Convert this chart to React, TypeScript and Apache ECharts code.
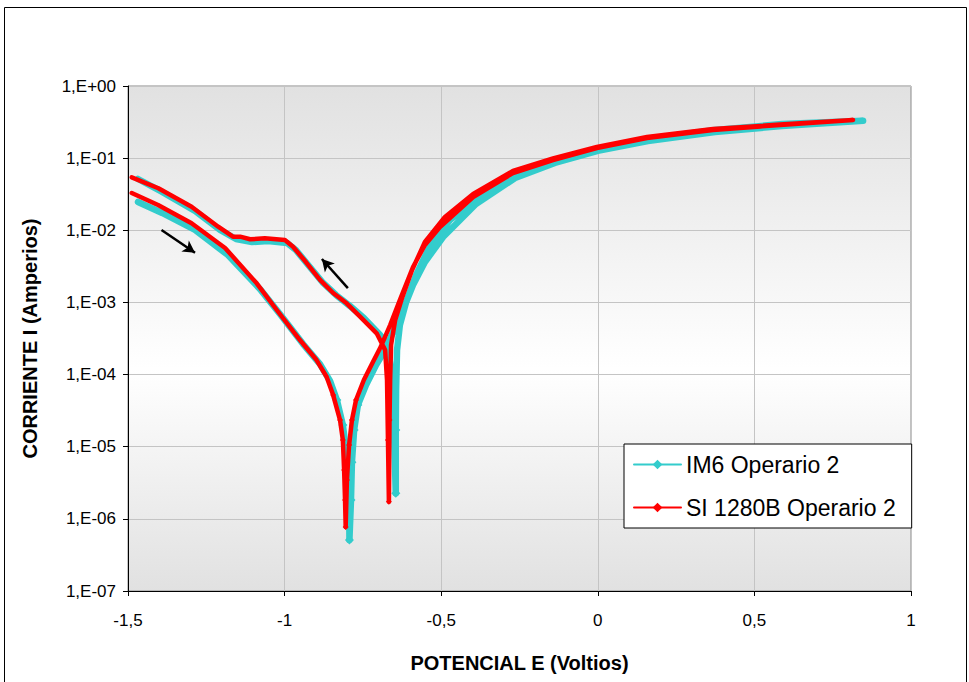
import React, { useEffect, useRef } from "react";
import * as echarts from "echarts";

// IM6 Operario 2 (cyan) — potential (V) and current (A), in scan order
const im6E = [
  -1.468, -1.391, -1.286, -1.181, -1.079, -1.015, -0.941, -0.887, -0.855, -0.833, -0.814, -0.804, -0.801, -0.794, -0.793,
  -0.788, -0.785, -0.778, -0.766, -0.74, -0.708, -0.679, -0.651, -0.622, -0.59, -0.552, -0.494, -0.389, -0.264, -0.137,
  0.0, 0.16, 0.374, 0.588, 0.847,
  0.588, 0.374, 0.16, 0.0, -0.137, -0.264, -0.382, -0.472, -0.536, -0.58, -0.612, -0.632, -0.641, -0.644, -0.645,
  -0.645, -0.651, -0.657, -0.67, -0.695, -0.747, -0.791, -0.836, -0.877, -0.922, -0.964, -0.992, -1.053, -1.104, -1.155,
  -1.206, -1.286, -1.391, -1.468,
];
const im6I = [
  2.47e-2, 1.74e-2, 1.01e-2, 4.54e-3, 1.54e-3, 6.9e-4, 2.65e-4, 1.4e-4, 8.15e-5, 4.44e-5, 2.0e-5, 9.0e-6, 4.75e-6, 1.82e-6, 5.1e-7,
  1.82e-6, 6.1e-6, 1.7e-5, 3.79e-5, 7.16e-5, 1.36e-4, 2.19e-4, 4.15e-4, 7.85e-4, 1.74e-3, 3.63e-3, 8.07e-3, 2.31e-2, 5.3e-2, 8.57e-2,
  0.126, 0.173, 0.23, 0.279, 0.33,
  0.297, 0.245, 0.184, 0.134, 0.0942, 0.0603, 0.028, 0.0139, 6.05e-3, 2.4e-3, 1.01e-3, 4.86e-4, 2.19e-4, 6.1e-5, 1.7e-5,
  2.26e-6, 1.7e-5, 8.4e-5, 2.57e-4, 3.53e-4, 6.08e-4, 8.9e-4, 1.27e-3, 1.86e-3, 3.2e-3, 5.33e-3, 6.67e-3, 7.1e-3, 6.88e-3, 7.57e-3,
  1.01e-2, 1.85e-2, 3.4e-2, 5.14e-2,
];

// SI 1280B Operario 2 (red)
const si1280E = [
  -1.488, -1.404, -1.297, -1.19, -1.089, -1.025, -0.951, -0.898, -0.866, -0.845, -0.823, -0.814, -0.81, -0.807, -0.805,
  -0.801, -0.794, -0.785, -0.772, -0.747, -0.718, -0.695, -0.663, -0.632, -0.59, -0.552, -0.504, -0.398, -0.271, -0.143,
  -0.003, 0.157, 0.368, 0.582, 0.815,
  0.582, 0.368, 0.157, -0.003, -0.143, -0.271, -0.398, -0.488, -0.552, -0.593, -0.625, -0.647, -0.66, -0.663, -0.665,
  -0.667, -0.67, -0.673, -0.679, -0.706, -0.759, -0.802, -0.845, -0.887, -0.932, -0.973, -0.999, -1.063, -1.11, -1.142,
  -1.165, -1.212, -1.297, -1.403, -1.488,
];
const si1280I = [
  3.29e-2, 2.24e-2, 1.25e-2, 5.68e-3, 1.84e-3, 7.85e-4, 3.01e-4, 1.59e-4, 9.33e-5, 5.2e-5, 2.34e-5, 1.24e-5, 4.75e-6, 1.82e-6, 7.7e-7,
  3.46e-6, 1.06e-5, 2.34e-5, 4.44e-5, 8.41e-5, 1.49e-4, 2.33e-4, 4.86e-4, 1.08e-3, 3.1e-3, 6.25e-3, 1.11e-2, 2.89e-2, 6.22e-2, 9.42e-2,
  0.138, 0.19, 0.245, 0.288, 0.338,
  0.292, 0.253, 0.196, 0.143, 0.0989, 0.0664, 0.0318, 0.0153, 6.88e-3, 2.81e-3, 1.15e-3, 5.7e-4, 2.57e-4, 8.4e-5, 2.34e-5,
  1.73e-6, 1.24e-5, 8.4e-5, 2.19e-4, 3.73e-4, 6.34e-4, 9.72e-4, 1.35e-3, 2.05e-3, 3.63e-3, 5.92e-3, 7.33e-3, 7.74e-3, 7.5e-3, 8.15e-3,
  8.15e-3, 1.12e-2, 2.12e-2, 3.82e-2, 5.42e-2,
];

// scan-direction arrows (data coordinates: [E, I])
const arrowForward = [[-1.393, 1.01e-2], [-1.286, 4.89e-3]];
const arrowReverse = [[-0.798, 1.58e-3], [-0.881, 4.0e-3]];

const xMin = -1.5;
const xMax = 1;
const xStep = 0.5;
const yMin = 1e-7;
const yMax = 1;

const seriesNames = ["IM6 Operario 2", "SI 1280B Operario 2"];

const zip = (xs: number[], ys: number[]) => xs.map((x, i) => [x, ys[i]]);

const FONT = "'Liberation Sans', Arial, Helvetica, sans-serif";

export default function App() {
  const ref = useRef<HTMLDivElement>(null);
  useEffect(() => {
    if (!ref.current) return;
    const chart = echarts.init(ref.current, undefined, { renderer: "svg" });
    const dipSize = (big: number) => (v: number[]) => (v[1] < 6e-5 ? big : 0);
    chart.setOption({
      animation: false,
      backgroundColor: "#ffffff",
      textStyle: { fontFamily: FONT },
      graphic: [
        {
          type: "rect",
          shape: { x: 4.5, y: 7.5, width: 962, height: 700 },
          style: { fill: "none", stroke: "#000", lineWidth: 1 },
          silent: true,
          z: -1,
        },
      ],
      grid: {
        left: 128,
        top: 86,
        width: 783,
        height: 505,
        show: true,
        borderColor: "#8a8a8a",
        borderWidth: 1,
        backgroundColor: new echarts.graphic.LinearGradient(0, 0, 0, 1, [
          { offset: 0, color: "#e1e1e1" },
          { offset: 0.56, color: "#ffffff" },
          { offset: 1, color: "#e1e1e1" },
        ]),
      },
      legend: {
        orient: "vertical",
        left: 624,
        top: 444,
        data: seriesNames,
        backgroundColor: "#ffffff",
        borderColor: "#000",
        borderWidth: 1,
        borderRadius: 0,
        padding: [9, 16, 9, 9],
        itemGap: 20,
        itemWidth: 47,
        itemHeight: 12,
        lineStyle: { width: 2 },
        textStyle: { fontSize: 23, color: "#000", fontFamily: FONT },
      },
      xAxis: {
        type: "value",
        min: xMin,
        max: xMax,
        interval: xStep,
        name: "POTENCIAL E (Voltios)",
        nameLocation: "middle",
        nameGap: 62,
        nameTextStyle: { fontSize: 20, fontWeight: "bold", color: "#000", fontFamily: FONT },
        axisLine: { show: true, onZero: false, lineStyle: { color: "#000", width: 1 } },
        axisTick: { show: true, inside: false, length: 5, lineStyle: { color: "#000" } },
        axisLabel: {
          margin: 21,
          fontSize: 17,
          color: "#000",
          fontFamily: FONT,
          formatter: (v: number) => String(v).replace(".", ","),
        },
        splitLine: { show: true, lineStyle: { color: "#c4c4c4", width: 1 } },
      },
      yAxis: {
        type: "log",
        logBase: 10,
        min: yMin,
        max: yMax,
        name: "CORRIENTE I (Amperios)",
        nameLocation: "middle",
        nameGap: 88,
        nameRotate: 90,
        nameTextStyle: { fontSize: 20, fontWeight: "bold", color: "#000", fontFamily: FONT },
        axisLine: { show: true, onZero: false, lineStyle: { color: "#000", width: 1 } },
        axisTick: { show: true, inside: false, length: 5, lineStyle: { color: "#000" } },
        axisLabel: {
          margin: 12,
          fontSize: 17,
          color: "#000",
          fontFamily: FONT,
          formatter: (v: number) => {
            const e = Math.round(Math.log10(v));
            return "1,E" + (e >= 0 ? "+" : "-") + String(Math.abs(e)).padStart(2, "0");
          },
        },
        splitLine: { show: true, lineStyle: { color: "#c4c4c4", width: 1 } },
      },
      series: [
        {
          name: seriesNames[0],
          type: "line",
          data: zip(im6E, im6I),
          color: "#33cccc",
          symbol: "diamond",
          symbolSize: dipSize(9),
          showSymbol: true,
          lineStyle: { width: 6.5, color: "#33cccc", cap: "round", join: "round" },
          itemStyle: { color: "#33cccc" },
          z: 2,
        },
        {
          name: seriesNames[1],
          type: "line",
          data: zip(si1280E, si1280I),
          color: "#ff0000",
          symbol: "diamond",
          symbolSize: dipSize(6),
          showSymbol: true,
          lineStyle: { width: 4.5, color: "#ff0000", cap: "round", join: "round" },
          itemStyle: { color: "#ff0000" },
          z: 3,
          markLine: {
            silent: true,
            symbol: ["none", "arrow"],
            symbolSize: [10, 12],
            label: { show: false },
            lineStyle: { color: "#000", width: 2.5, type: "solid" },
            data: [
              [{ coord: arrowForward[0] }, { coord: arrowForward[1] }],
              [{ coord: arrowReverse[0] }, { coord: arrowReverse[1] }],
            ],
          },
        },
      ],
    });
    return () => chart.dispose();
  }, []);
  return (
    <div
      ref={ref}
      style={{ position: "fixed", left: 0, top: 0, width: 969, height: 682 }}
    />
  );
}
